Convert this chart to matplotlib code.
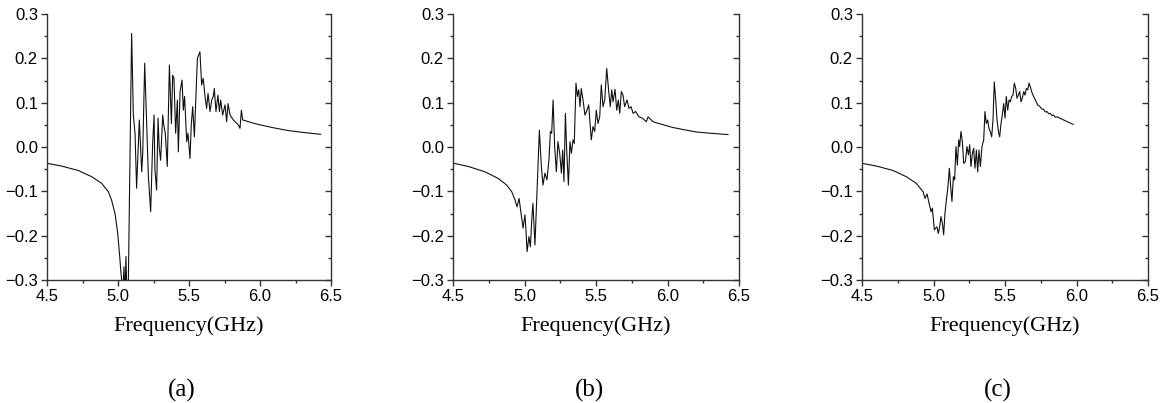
import matplotlib
matplotlib.use("Agg")
import matplotlib.pyplot as plt
from matplotlib.ticker import MultipleLocator

plt.rcParams["font.family"] = ["Liberation Sans", "DejaVu Sans"]

# panel (a)
freq_a = [4.505, 4.603, 4.72, 4.815, 4.885, 4.932, 4.955, 4.979, 4.998, 5.012, 5.021, 5.026,
          5.034, 5.042, 5.049, 5.056, 5.064, 5.073, 5.096, 5.108, 5.12, 5.131, 5.15, 5.167,
          5.174, 5.188, 5.214, 5.23, 5.244, 5.254, 5.26, 5.272, 5.282, 5.29, 5.3, 5.315,
          5.324, 5.333, 5.347, 5.362, 5.376, 5.385, 5.394, 5.406, 5.418, 5.425, 5.437, 5.451,
          5.46, 5.469, 5.484, 5.493, 5.507, 5.516, 5.526, 5.538, 5.559, 5.577, 5.589, 5.6,
          5.613, 5.624, 5.634, 5.648, 5.66, 5.671, 5.678, 5.69, 5.704, 5.714, 5.723, 5.737,
          5.754, 5.765, 5.775, 5.789, 5.812, 5.847, 5.859, 5.869, 5.878, 5.9, 5.95, 6.0,
          6.1, 6.2, 6.3, 6.427]
s_a = [-0.037, -0.043, -0.053, -0.067, -0.082, -0.101, -0.12, -0.15, -0.195, -0.247, -0.285, -0.3,
       -0.33, -0.27, -0.34, -0.247, -0.35, -0.3, 0.256, 0.072, 0.031, -0.093, 0.061, -0.056,
       -0.014, 0.189, -0.067, -0.146, 0.008, 0.072, -0.052, -0.097, 0.065, 0.0, -0.03, 0.072,
       0.046, 0.031, -0.044, 0.185, 0.053, 0.162, 0.155, 0.031, 0.106, -0.011, 0.125, 0.151,
       0.083, 0.114, 0.012, 0.031, -0.026, 0.05, 0.091, 0.023, 0.2, 0.215, 0.14, 0.155,
       0.114, 0.087, 0.121, 0.08, 0.106, 0.114, 0.132, 0.08, 0.117, 0.08, 0.106, 0.072,
       0.095, 0.057, 0.098, 0.072, 0.061, 0.05, 0.042, 0.083, 0.061, 0.059, 0.054, 0.05,
       0.043, 0.037, 0.033, 0.0286]

# panel (b)
freq_b = [4.51, 4.608, 4.724, 4.817, 4.876, 4.911, 4.934, 4.948, 4.962, 4.976, 4.99, 5.003,
          5.01, 5.018, 5.031, 5.041, 5.052, 5.059, 5.073, 5.087, 5.104, 5.118, 5.129, 5.143,
          5.157, 5.171, 5.181, 5.19, 5.2, 5.211, 5.223, 5.234, 5.246, 5.258, 5.267, 5.276,
          5.286, 5.295, 5.307, 5.318, 5.328, 5.339, 5.348, 5.36, 5.37, 5.379, 5.388, 5.397,
          5.409, 5.423, 5.437, 5.449, 5.46, 5.467, 5.479, 5.491, 5.502, 5.514, 5.526, 5.537,
          5.549, 5.561, 5.575, 5.589, 5.6, 5.61, 5.619, 5.633, 5.645, 5.656, 5.666, 5.677,
          5.689, 5.7, 5.717, 5.731, 5.745, 5.759, 5.777, 5.801, 5.824, 5.852, 5.864, 5.899,
          5.95, 6.038, 6.1, 6.2, 6.3, 6.423]
s_b = [-0.037, -0.044, -0.056, -0.071, -0.086, -0.101, -0.12, -0.135, -0.116, -0.15, -0.183, -0.153,
       -0.187, -0.236, -0.202, -0.225, -0.157, -0.127, -0.221, -0.105, 0.038, -0.044, -0.086, -0.059,
       -0.074, -0.029, 0.035, 0.031, 0.106, 0.001, -0.056, 0.012, -0.014, -0.059, -0.007, -0.078,
       0.076, -0.007, -0.086, 0.012, -0.014, 0.016, 0.008, 0.144, 0.114, 0.129, 0.091, 0.132,
       0.106, 0.072, 0.083, 0.095, 0.046, 0.016, 0.046, 0.035, 0.083, 0.053, 0.068, 0.14,
       0.091, 0.106, 0.177, 0.125, 0.091, 0.129, 0.102, 0.13, 0.083, 0.106, 0.076, 0.125,
       0.117, 0.091, 0.106, 0.087, 0.091, 0.076, 0.08, 0.068, 0.065, 0.057, 0.068, 0.057,
       0.052, 0.044, 0.04, 0.034, 0.031, 0.028]

# panel (c)
freq_c = [4.503, 4.601, 4.717, 4.81, 4.88, 4.927, 4.941, 4.955, 4.969, 4.983, 4.992, 5.006,
          5.015, 5.024, 5.034, 5.043, 5.052, 5.062, 5.071, 5.08, 5.09, 5.101, 5.111, 5.12,
          5.129, 5.139, 5.148, 5.157, 5.167, 5.176, 5.183, 5.192, 5.202, 5.211, 5.223, 5.234,
          5.244, 5.253, 5.262, 5.272, 5.281, 5.29, 5.3, 5.309, 5.318, 5.328, 5.339, 5.351,
          5.36, 5.369, 5.379, 5.388, 5.397, 5.407, 5.416, 5.425, 5.435, 5.444, 5.456, 5.463,
          5.472, 5.481, 5.491, 5.5, 5.509, 5.519, 5.528, 5.537, 5.547, 5.556, 5.565, 5.575,
          5.584, 5.593, 5.603, 5.612, 5.621, 5.631, 5.64, 5.649, 5.659, 5.668, 5.677, 5.686,
          5.7, 5.714, 5.728, 5.742, 5.756, 5.77, 5.782, 5.794, 5.805, 5.817, 5.828, 5.84,
          5.852, 5.864, 5.91, 5.976]
s_c = [-0.037, -0.043, -0.053, -0.067, -0.082, -0.101, -0.116, -0.106, -0.127, -0.146, -0.138, -0.187,
       -0.183, -0.18, -0.195, -0.18, -0.157, -0.172, -0.198, -0.15, -0.12, -0.089, -0.048, -0.089,
       -0.123, -0.067, -0.074, 0.001, -0.041, 0.016, 0.001, 0.035, 0.012, -0.037, -0.033, 0.001,
       -0.018, 0.005, -0.044, -0.014, -0.003, -0.048, -0.007, -0.056, -0.007, -0.044, 0.001, 0.016,
       0.08, 0.053, 0.061, 0.042, 0.035, 0.023, 0.061, 0.147, 0.106, 0.061, 0.031, 0.023,
       0.053, 0.072, 0.098, 0.065, 0.114, 0.083, 0.106, 0.102, 0.114, 0.117, 0.144, 0.132,
       0.11, 0.117, 0.125, 0.102, 0.11, 0.125, 0.117, 0.132, 0.129, 0.144, 0.136, 0.125,
       0.114, 0.105, 0.095, 0.092, 0.086, 0.085, 0.079, 0.08, 0.075, 0.076, 0.071, 0.072,
       0.067, 0.068, 0.061, 0.051]

panels = [(freq_a, s_a, "(a)"), (freq_b, s_b, "(b)"), (freq_c, s_c, "(c)")]
lefts = [47, 453, 862]
widths = [284, 286, 286]

W, H = 1174, 403
fig = plt.figure(figsize=(W / 100, H / 100), dpi=100)
spine_col = "#333333"

for (fx, sy, tag), l, w in zip(panels, lefts, widths):
    ax = fig.add_axes([l / W, 1 - 280 / H, w / W, 266 / H])
    ax.plot(fx, sy, color="#111111", lw=0.8)
    ax.set_xlim(4.5, 6.5)
    ax.set_ylim(-0.3, 0.3)
    ax.spines["top"].set_visible(False)
    ax.spines["right"].set_visible(False)
    for sp in ("left", "bottom"):
        ax.spines[sp].set_color(spine_col)
        ax.spines[sp].set_linewidth(1.0)
    ax.xaxis.set_major_locator(MultipleLocator(0.5))
    ax.xaxis.set_minor_locator(MultipleLocator(0.25))
    ax.yaxis.set_major_locator(MultipleLocator(0.1))
    ax.yaxis.set_minor_locator(MultipleLocator(0.05))
    ax.xaxis.set_major_formatter(lambda v, p: f"{v:.1f}")
    ax.yaxis.set_major_formatter(lambda v, p: f"{v:.1f}".replace("-", "\u2212"))
    ax.tick_params(which="both", direction="out", color=spine_col, width=1.0, pad=2)
    ax.tick_params(which="major", length=4.5, labelsize=12)
    ax.tick_params(which="minor", length=2.5)

    rax = ax.secondary_yaxis("right")
    rax.yaxis.set_major_locator(MultipleLocator(0.1))
    rax.yaxis.set_minor_locator(MultipleLocator(0.05))
    rax.spines["right"].set_color(spine_col)
    rax.spines["right"].set_linewidth(1.0)
    rax.tick_params(which="both", direction="in", color=spine_col, width=1.0, labelright=False)
    rax.tick_params(which="major", length=4.5)
    rax.tick_params(which="minor", length=2.5)

    ax.set_xlabel("Frequency(GHz)", family="Liberation Serif", fontsize=16, labelpad=9)
    fig.text((l + w / 2 - 7) / W, 1 - 390 / H, tag, family="Liberation Serif",
             fontsize=18, ha="center", va="center")

fig.savefig("out.png", dpi=100, facecolor="white")
